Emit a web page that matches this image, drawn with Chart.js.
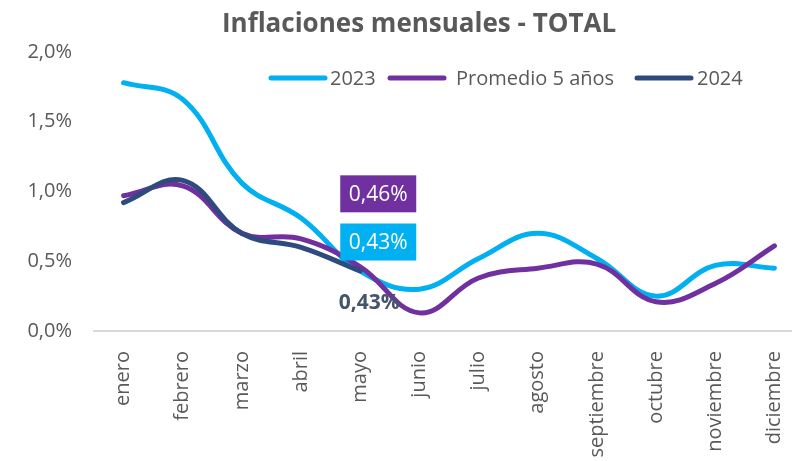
<!DOCTYPE html>
<html lang="es">
<head>
<meta charset="UTF-8">
<title>Inflaciones mensuales - TOTAL</title>
<style>
  html, body { margin: 0; padding: 0; background: #fff; overflow: hidden; }
  .wrap { position: relative; width: 804px; height: 461px; }
  canvas { display: block; }
</style>
</head>
<body>
<div class="wrap">
  <canvas id="grafico" width="804" height="461"></canvas>
</div>

<script src="https://cdn.jsdelivr.net/npm/chart.js"></script>
<script>
  // datos
  const meses = ['enero', 'febrero', 'marzo', 'abril', 'mayo', 'junio', 'julio', 'agosto', 'septiembre', 'octubre', 'noviembre', 'diciembre'];
  const serie2023 = [1.78, 1.66, 1.06, 0.81, 0.43, 0.30, 0.52, 0.70, 0.52, 0.25, 0.47, 0.45];
  const promedio5 = [0.97, 1.04, 0.70, 0.66, 0.46, 0.13, 0.38, 0.45, 0.48, 0.21, 0.34, 0.61];
  const serie2024 = [0.92, 1.08, 0.70, 0.60, 0.43];
  const ticksY = [0, 0.5, 1.0, 1.5, 2.0];

  const gris = '#595959';
  const fuente = "'Open Sans', sans-serif";

  function pct(v, dec) {
    return v.toFixed(dec).replace('.', ',') + '%';
  }

  // titulo, leyenda y etiquetas de mayo
  const extras = {
    id: 'extras',
    afterDraw(chart) {
      const ctx = chart.ctx;
      ctx.save();

      // titulo
      ctx.fillStyle = gris;
      ctx.font = "bold 26px " + fuente;
      ctx.textAlign = 'center';
      ctx.textBaseline = 'middle';
      ctx.fillText('Inflaciones mensuales - TOTAL', 419, 25);

      // leyenda (inicio de linea y de texto de cada serie)
      const posLinea = [271, 390, 637];
      const posTexto = [330, 456, 697];
      const yL = 78;
      ctx.font = "20px " + fuente;
      ctx.textAlign = 'left';
      chart.data.datasets.forEach((ds, k) => {
        ctx.strokeStyle = ds.borderColor;
        ctx.lineWidth = 5;
        ctx.lineCap = 'round';
        ctx.beginPath();
        ctx.moveTo(posLinea[k], yL);
        ctx.lineTo(posLinea[k] + 54, yL);
        ctx.stroke();
        ctx.fillStyle = gris;
        ctx.fillText(ds.label, posTexto[k], yL + 1);
      });

      // etiquetas de datos en mayo
      const i = 4;
      const etiquetas = [
        { ds: 1, dx: 18, dy: -73, fondo: '#7030A0', color: '#fff', bold: false },
        { ds: 0, dx: 18, dy: -29, fondo: '#00B0F0', color: '#fff', bold: false },
        { ds: 2, dx: 9, dy: 31, fondo: null, color: '#44546A', bold: true }
      ];
      etiquetas.forEach(e => {
        const pt = chart.getDatasetMeta(e.ds).data[i];
        const valor = chart.data.datasets[e.ds].data[i];
        const cx = pt.x + e.dx;
        const cy = pt.y + e.dy;
        ctx.font = (e.bold ? 'bold ' : '') + "21px " + fuente;
        if (e.fondo) {
          ctx.fillStyle = e.fondo;
          ctx.fillRect(cx - 38, cy - 18.5, 76, 37);
        }
        ctx.fillStyle = e.color;
        ctx.textAlign = 'center';
        ctx.fillText(pct(valor, 2), cx, cy + 1);
      });

      ctx.restore();
    }
  };

  const data = {
    labels: meses,
    datasets: [
      {
        label: '2023',
        data: serie2023,
        borderColor: '#00B0F0',
        backgroundColor: '#00B0F0',
        borderWidth: 5,
        order: 3
      },
      {
        label: 'Promedio 5 años',
        data: promedio5,
        borderColor: '#7030A0',
        backgroundColor: '#7030A0',
        borderWidth: 5,
        order: 2
      },
      {
        label: '2024',
        data: serie2024,
        borderColor: '#2E4A7E',
        backgroundColor: '#2E4A7E',
        borderWidth: 5,
        order: 1
      }
    ]
  };

  const config = {
    type: 'line',
    data: data,
    options: {
      responsive: false,
      animation: false,
      layout: { padding: { top: 52, left: 0, right: 0, bottom: 0 } },
      elements: {
        line: { tension: 0.4, borderCapStyle: 'round', borderJoinStyle: 'round' },
        point: { radius: 0 }
      },
      plugins: {
        legend: { display: false },
        title: { display: false },
        tooltip: { enabled: false }
      },
      scales: {
        x: {
          offset: true,
          grid: { display: false, drawTicks: false },
          border: { display: true, color: '#D9D9D9', width: 2 },
          ticks: {
            color: gris,
            font: { family: fuente, size: 20 },
            minRotation: 90,
            maxRotation: 90,
            padding: 20,
            autoSkip: false
          },
          afterFit(scale) {
            scale.height = 130;
            scale.paddingLeft = 0;
            scale.paddingRight = 0;
          }
        },
        y: {
          min: 0,
          max: 2,
          afterBuildTicks(scale) {
            scale.ticks = ticksY.map(v => ({ value: v }));
          },
          grid: { display: false, drawTicks: false },
          border: { display: false },
          ticks: {
            color: gris,
            font: { family: fuente, size: 20 },
            padding: 22,
            callback: v => pct(v, 1)
          },
          afterFit(scale) { scale.width = 94; }
        }
      }
    },
    plugins: [extras]
  };

  const grafico = new Chart(document.getElementById('grafico'), config);
</script>
</body>
</html>
